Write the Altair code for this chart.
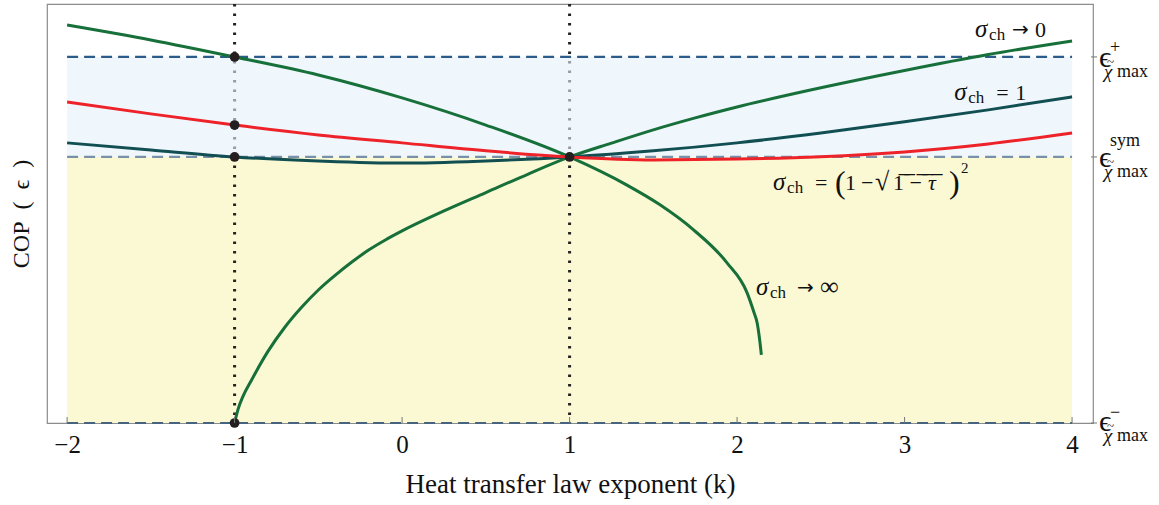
import altair as alt
import pandas as pd

# ---------------- data ----------------
# sigma_ch -> infinity (falling green curve)
inf_k = [-2, -1.5, -1, -0.5, 0, 0.5, 1, 1.34, 1.54, 1.74, 1.94, 2.06, 2.1, 2.12, 2.135, 2.145]
inf_v = [1.496, 1.440, 1.376, 1.308, 1.222, 1.120, 1.0, 0.895, 0.820, 0.726, 0.602, 0.489, 0.417, 0.376, 0.312, 0.256]
# sigma_ch -> 0 (rising green curve)
zero_k = [-1, -0.98, -0.95, -0.9, -0.8, -0.7, -0.6, -0.5, -0.4, -0.3, -0.2, -0.1, 0, 0.25, 0.5, 0.75, 1,
          1.25, 1.5, 1.75, 2, 2.5, 3, 3.5, 4]
zero_v = [0, 0.05, 0.10, 0.16, 0.27, 0.36, 0.435, 0.50, 0.555, 0.605, 0.65, 0.688, 0.722, 0.797, 0.866, 0.935, 1.0,
          1.052, 1.102, 1.147, 1.188, 1.26, 1.325, 1.385, 1.436]
# sigma_ch = 1 (dark teal) and sigma_ch = (1 - sqrt(1 - tau))^2 (red)
grid_k = [-2, -1.5, -1, -0.5, 0, 0.5, 1, 1.5, 2, 2.5, 3, 3.5, 4]
one_v = [1.053, 1.026, 1.0, 0.985, 0.977, 0.985, 1.0, 1.023, 1.053, 1.090, 1.132, 1.177, 1.226]
red_v = [1.207, 1.162, 1.120, 1.083, 1.053, 1.023, 1.0, 0.989, 0.992, 1.001, 1.019, 1.049, 1.090]
# marked points
pt_k = [-1, -1, -1, 1, -1]
pt_v = [1.376, 1.120, 1.0, 1.0, 0.0]
# reference COP levels: eps-, eps-sym, eps+
eps_minus, eps_sym, eps_plus = 0.0, 1.0, 1.376
k_min, k_max = -2, 4
vlines_k = [-1, 1]
xticks = [-2, -1, 0, 1, 2, 3, 4]

# ---------------- tables ----------------
curves = pd.concat([
    pd.DataFrame({"k": inf_k, "v": inf_v, "c": "inf"}),
    pd.DataFrame({"k": zero_k, "v": zero_v, "c": "zero"}),
    pd.DataFrame({"k": grid_k, "v": one_v, "c": "one"}),
    pd.DataFrame({"k": grid_k, "v": red_v, "c": "red"}),
])
pts = pd.DataFrame({"k": pt_k, "v": pt_v})
yellow_df = pd.DataFrame({"k0": [k_min], "k1": [k_max], "v0": [eps_minus], "v1": [eps_sym]})
blue_df = pd.DataFrame({"k0": [k_min], "k1": [k_max], "v0": [eps_sym], "v1": [eps_plus]})
levels = pd.DataFrame({"k0": [k_min] * 3, "k1": [k_max] * 3,
                       "v": [eps_minus, eps_sym, eps_plus], "lv": ["minus", "sym", "plus"]})
vl_df = pd.DataFrame({"k": vlines_k})
tick_df = pd.DataFrame({"k": xticks})

W, H = 1046, 419
SERIF = "Liberation Serif, DejaVu Serif, serif"
NB = "\u2002"

xs = alt.Scale(domain=[-2.12, 4.125], nice=False, zero=False)
ys = alt.Scale(domain=[0, 1.575], nice=False, zero=False)

x_axis = alt.Axis(values=xticks, title="Heat transfer law exponent (k)", ticks=False, domain=False,
                  grid=False, labelFont=SERIF, labelFontSize=25, labelColor="#111", labelPadding=9,
                  titleFont=SERIF, titleFontSize=27, titleFontWeight="normal", titleColor="#111",
                  titlePadding=14)
y_axis = alt.Axis(title=f"COP{NB}({NB}ϵ{NB})", labels=False, ticks=False, domain=False, grid=False,
                  titleFont=SERIF, titleFontSize=24, titleFontWeight="normal",
                  titleColor="#111", titlePadding=14)


def X(f):
    return alt.X(f, type="quantitative", scale=xs, axis=x_axis)


def Y(f):
    return alt.Y(f, type="quantitative", scale=ys, axis=y_axis)


yellow = alt.Chart(yellow_df).mark_rect(color="#fbf9d3").encode(
    x=X("k0"), x2="k1", y=Y("v0"), y2="v1")

vlines = alt.Chart(vl_df).mark_rule(color="#222", strokeWidth=3, strokeDash=[2.5, 7]).encode(x=X("k"))

blue = alt.Chart(blue_df).mark_rect(color="#e4f2fc", opacity=0.6).encode(
    x=X("k0"), x2="k1", y=Y("v0"), y2="v1")

lvl = alt.Chart(levels).mark_rule(strokeWidth=2.2, strokeDash=[11, 6]).encode(
    x=X("k0"), x2="k1", y=Y("v"),
    color=alt.Color("lv:N", scale=alt.Scale(domain=["minus", "sym", "plus"],
                                            range=["#46647f", "#7890a8", "#2b5b8a"]), legend=None))

lines = alt.Chart(curves).mark_line(strokeWidth=3, interpolate="monotone").encode(
    x=X("k"), y=Y("v"), detail="c:N",
    stroke=alt.Stroke("c:N", scale=alt.Scale(domain=["red", "one", "inf", "zero"],
                                             range=["#ee2229", "#124f52", "#17703a", "#17703a"]),
                      legend=None),
    order=alt.Order("k:Q"))

points = alt.Chart(pts).mark_circle(size=95, color="#231f20", opacity=1).encode(x=X("k"), y=Y("v"))

xt = alt.Chart(tick_df).mark_rule(color="#777", strokeWidth=1).encode(
    x=X("k"), y=alt.value(H), y2=alt.value(H - 6))

rt = alt.Chart(levels).mark_rule(color="#777", strokeWidth=1).encode(
    x=alt.value(W - 2), x2=alt.value(W + 4), y=Y("v"))


def rlabel(val, txt, dx, dy, size, style="normal", font=SERIF):
    return alt.Chart(pd.DataFrame({"v": [val]})).mark_text(
        text=txt, align="left", baseline="alphabetic", dx=dx, dy=dy, fontSize=size,
        font=font, fontStyle=style, color="#111").encode(x=alt.value(W), y=Y("v"))


right_labels = []
for val, sup, edy, sdy, supdy in [(eps_plus, "+", 10, 21, -4), (eps_sym, "sym", 10, 21, -11),
                                  (eps_minus, "−", 8, 19, -5)]:
    right_labels += [
        rlabel(val, "ϵ", 6, edy, 30),
        rlabel(val, sup, 17, supdy, 18),
        rlabel(val, "~", 14, sdy - 12, 13),
        rlabel(val, "χ", 11, sdy, 19, "italic"),
        rlabel(val, "max", 24, sdy - 1, 18),
    ]


def piece(k, v, txt, dx, dy, size, style="normal", font=SERIF):
    return alt.Chart(pd.DataFrame({"k": [k], "v": [v]})).mark_text(
        text=txt, align="left", baseline="alphabetic", dx=dx, dy=dy, fontSize=size,
        font=font, fontStyle=style, color="#111").encode(x=X("k"), y=Y("v"))


ARROW = "DejaVu Sans"
ann = []
# sigma_ch -> 0
a = (3.421, 1.451)
ann += [piece(*a, "σ", 0, 0, 25, "italic"), piece(*a, "ch", 14, 3, 17),
        piece(*a, "→", 37, -1, 20, font=ARROW), piece(*a, "0", 60, 0, 22)]
# sigma_ch = 1
a = (3.296, 1.214)
ann += [piece(*a, "σ", 0, 0, 25, "italic"), piece(*a, "ch", 14, 3, 17), piece(*a, "=", 42, 0, 22),
        piece(*a, "1", 61, 0, 22)]
# sigma_ch = (1 - sqrt(1 - tau))^2
a = (2.215, 0.876)
ann += [piece(*a, "σ", 0, 0, 25, "italic"), piece(*a, "ch", 14, 3, 17), piece(*a, "=", 42, 0, 22),
        piece(*a, "(", 62, 3, 32), piece(*a, "1", 72, 0, 22), piece(*a, "−", 88, 0, 22),
        piece(*a, "√", 102, 0, 26),
        piece(*a, "1̅ ̅−̅ ̅", 120, 0, 22), piece(*a, "τ̅", 155, 0, 22, "italic"),
        piece(*a, ")", 176, 3, 32), piece(*a, "2", 188, -17, 15)]
# sigma_ch -> infinity
a = (2.113, 0.481)
ann += [piece(*a, "σ", 0, 0, 25, "italic"), piece(*a, "ch", 14, 3, 17),
        piece(*a, "→", 41, -1, 20, font=ARROW), piece(*a, "∞", 64, 0, 26)]

chart = alt.layer(yellow, vlines, blue, lvl, lines, points, xt, rt, *right_labels, *ann).resolve_scale(
    color="independent", stroke="independent"
).properties(
    width=W, height=H,
    autosize=alt.AutoSizeParams(type="none"),
    padding={"left": 47, "top": 4, "right": 66, "bottom": 82},
).configure_view(stroke="#8c8c8c", strokeWidth=1.2)

chart.save("out.html", embed_options={"renderer": "svg", "actions": False})
